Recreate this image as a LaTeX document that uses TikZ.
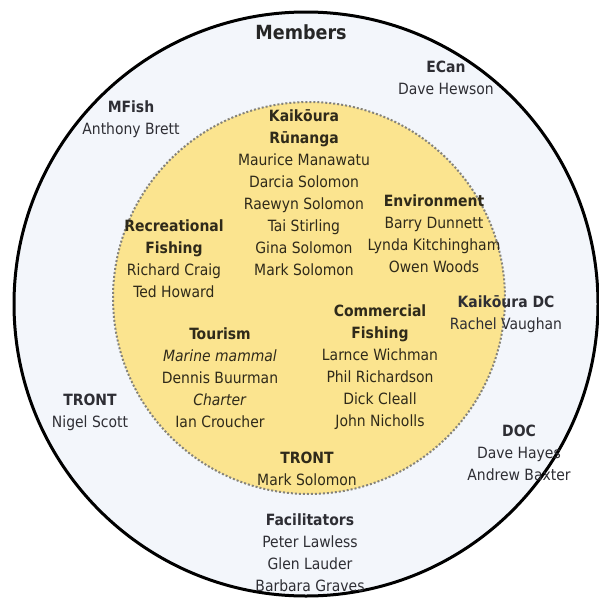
\documentclass[tikz,border=0pt]{standalone}
\usepackage{fontspec}
\setmainfont{DejaVu Sans Condensed}
\usepackage{xcolor}
\definecolor{outerfill}{HTML}{F3F6FB}
\definecolor{innerfill}{HTML}{FBE48F}
\definecolor{rimgrey}{HTML}{85837A}
\definecolor{outertext}{HTML}{2E2E34}
\definecolor{innertext}{HTML}{2F2A1A}
\tikzset{group/.style={align=center,inner sep=0pt,
   font=\fontsize{15.5}{22}\selectfont},
 outer/.style={group,text=outertext},
 inner/.style={group,text=innertext},
 title/.style={font=\fontsize{19.5}{22}\selectfont\bfseries,text=black!85},
 }

\begin{document}
\begin{tikzpicture}[x=1pt,y=-1pt]
        \useasboundingbox (0,0) rectangle (598,605);
        \fill[white] (0,0) rectangle (598,605);
        \draw[line width=3pt,fill=outerfill] (306,304) circle (292);
        \draw[rimgrey,line width=2pt,dotted,fill=innerfill] (309,298) circle (196);
        \node[title] (members) at (301,32) {Members};
        \node[outer] (mfish) at (131,119) {\textbf{MFish}\\Anthony Brett};
        \node[outer] (ecan) at (446,78) {\textbf{ECan}\\Dave Hewson};
        \node[inner] (runanga) at (304,192.5)
            {\textbf{Kaikōura}\\\textbf{Rūnanga}\\Maurice Manawatu\\Darcia Solomon\\
             Raewyn Solomon\\Tai Stirling\\Gina Solomon\\Mark Solomon};
        \node[inner] (environment) at (434,234)
            {\textbf{Environment}\\Barry Dunnett\\Lynda Kitchingham\\Owen Woods};
        \node[inner] (recfishing) at (174,259)
            {\textbf{Recreational}\\\textbf{Fishing}\\Richard Craig\\Ted Howard};
        \node[outer] (kdc) at (506,314.5) {\textbf{Kaikōura DC}\\Rachel Vaughan};
        \node[inner] (comfishing) at (380,367)
            {\textbf{Commercial}\\\textbf{Fishing}\\Larnce Wichman\\Phil Richardson\\
             Dick Cleall\\John Nicholls};
        \node[inner] (tourism) at (220,378)
            {\textbf{Tourism}\\\textit{Marine mammal}\\Dennis Buurman\\\textit{Charter}\\Ian Croucher};
        \node[outer] (trontouter) at (90,412) {\textbf{TRONT}\\Nigel Scott};
        \node[outer] (doc) at (519,453) {\textbf{DOC}\\Dave Hayes\\Andrew Baxter};
        \node[inner] (trontinner) at (307,468.5) {\textbf{TRONT}\\Mark Solomon};
        \node[outer] (facilitators) at (310,552.5)
            {\textbf{Facilitators}\\Peter Lawless\\Glen Lauder\\Barbara Graves};
    \end{tikzpicture}
\end{document}
